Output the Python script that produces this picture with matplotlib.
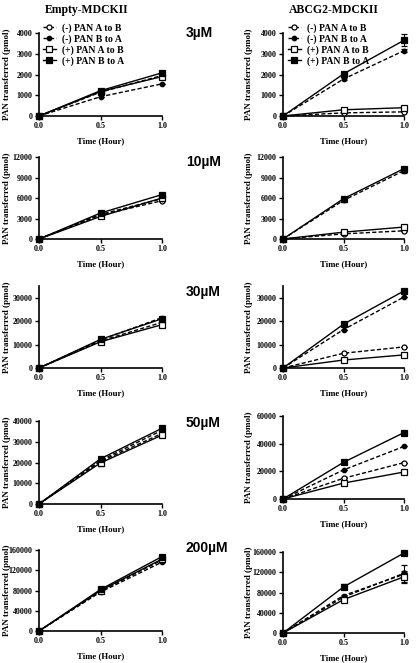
import numpy as np
import matplotlib.pyplot as plt

plt.rcParams['font.family'] = 'Liberation Serif'
plt.rcParams['font.weight'] = 'bold'
plt.rcParams['axes.labelweight'] = 'bold'

# time points (hour)
time = [0.0, 0.5, 1.0]
series_labels = ["(-) PAN A to B", "(-) PAN B to A", "(+) PAN A to B", "(+) PAN B to A"]
conc_labels = ["3\u00b5M", "10\u00b5M", "30\u00b5M", "50\u00b5M", "200\u00b5M"]

# Empty-MDCKII, order: (-)AtoB, (-)BtoA, (+)AtoB, (+)BtoA
empty_3 = [[0, 1150, 1950], [0, 930, 1550], [0, 1180, 1900], [0, 1220, 2080]]
empty_10 = [[0, 3500, 5600], [0, 3600, 5900], [0, 3300, 6000], [0, 3800, 6500]]
empty_30 = [[0, 11500, 19500], [0, 12000, 21500], [0, 11200, 18500], [0, 12200, 21000]]
empty_50 = [[0, 20500, 34000], [0, 21000, 35500], [0, 19800, 33200], [0, 21800, 36500]]
empty_200 = [[0, 79000, 140000], [0, 77000, 136000], [0, 80000, 142000], [0, 82000, 147000]]

# ABCG2-MDCKII
abcg2_3 = [[0, 150, 200], [0, 1780, 3150], [0, 300, 400], [0, 2030, 3650]]
abcg2_10 = [[0, 750, 1200], [0, 5650, 10000], [0, 1000, 1750], [0, 5900, 10300]]
abcg2_30 = [[0, 6300, 9000], [0, 16400, 30300], [0, 3400, 5600], [0, 18700, 32900]]
abcg2_50 = [[0, 15000, 26300], [0, 21000, 38000], [0, 11500, 19500], [0, 26500, 48000]]
abcg2_200 = [[0, 71000, 118000], [0, 74000, 116000], [0, 66000, 111000], [0, 91000, 158000]]

# error bars (SD)
empty_50_err = [[0, 800, 600], [0, 600, 800], [0, 1500, 700], [0, 500, 1200]]
abcg2_3_err = [[0, 0, 0], [0, 60, 80], [0, 0, 0], [0, 60, 280]]
abcg2_10_err = [[0, 0, 0], [0, 200, 400], [0, 0, 0], [0, 200, 300]]
abcg2_50_err = [[0, 0, 0], [0, 0, 0], [0, 0, 0], [0, 800, 1500]]
abcg2_200_err = [[0, 0, 17000], [0, 2000, 3000], [0, 2000, 12000], [0, 5000, 3000]]

zero_err = [[0, 0, 0]] * 4

# y axis limits / ticks
left_ylim = [4000, 12000, 35000, 40000, 160000]
left_yticks = [[0, 1000, 2000, 3000, 4000], [0, 3000, 6000, 9000, 12000],
               [0, 10000, 20000, 30000], [0, 10000, 20000, 30000, 40000],
               [0, 40000, 80000, 120000, 160000]]
right_ylim = [4000, 12000, 35000, 60000, 160000]
right_yticks = [[0, 1000, 2000, 3000, 4000], [0, 3000, 6000, 9000, 12000],
                [0, 10000, 20000, 30000], [0, 20000, 40000, 60000],
                [0, 40000, 80000, 120000, 160000]]

left_data = [empty_3, empty_10, empty_30, empty_50, empty_200]
left_err = [zero_err, zero_err, zero_err, empty_50_err, zero_err]
right_data = [abcg2_3, abcg2_10, abcg2_30, abcg2_50, abcg2_200]
right_err = [abcg2_3_err, abcg2_10_err, zero_err, abcg2_50_err, abcg2_200_err]

W, H = 416, 663
fig = plt.figure(figsize=(W / 100, H / 100), dpi=100)

# axes boxes in pixels: (top, bottom)
left_rows = [(33, 116), (157, 239), (286, 368), (421, 504), (550, 631)]
right_rows = [(33, 116), (157, 239), (286, 368), (416, 499), (552, 633)]
conc_y = [33, 162, 292, 423, 548]

dash = (0, (3, 1.6))
styles = [
    dict(marker='o', mfc='white', ls=dash, ms=3.6),
    dict(marker='o', mfc='black', ls=dash, ms=3.2),
    dict(marker='s', mfc='white', ls='-', ms=3.8),
    dict(marker='s', mfc='black', ls='-', ms=3.8),
]


def add_ax(x0, x1, top, bottom):
    return fig.add_axes([x0 / W, 1 - bottom / H, (x1 - x0) / W, (bottom - top) / H])


def draw_panel(ax, data, err, ymax, yticks, x0, x1, label_x):
    handles = []
    for i in range(4):
        st = styles[i]
        e = ax.errorbar(time, data[i], yerr=err[i], color='black', lw=1.0,
                        ls=st['ls'], marker=st['marker'], ms=st['ms'],
                        mfc=st['mfc'], mec='black', mew=0.9,
                        elinewidth=0.8, capsize=2, capthick=0.8,
                        clip_on=False, zorder=3 + i)
        handles.append(e[0])  # data line only, for the legend
    ax.set_xlim(0, 1.0)
    ax.set_ylim(0, ymax)
    ax.set_xticks([0, 0.5, 1.0])
    ax.set_xticklabels(['0.0', '0.5', '1.0'])
    ax.set_yticks(yticks)
    ax.set_yticklabels([str(t) for t in yticks])
    for s in ['top', 'right']:
        ax.spines[s].set_visible(False)
    for s in ['left', 'bottom']:
        ax.spines[s].set_linewidth(1.2)
    ax.tick_params(direction='out', length=3, width=1, labelsize=5.8, pad=1.5)
    ax.set_xlabel("Time (Hour)", fontsize=6.3, labelpad=5)
    ax.set_ylabel("PAN transferred (pmol)", fontsize=6.5)
    # fixed horizontal position of the y label (its right edge), in axes units
    ax.yaxis.set_label_coords((label_x - x0) / (x1 - x0), 0.5)
    return handles


for r in range(5):
    axl = add_ax(39, 162, *left_rows[r])
    hl = draw_panel(axl, left_data[r], left_err[r], left_ylim[r], left_yticks[r], 39, 162, 11)
    axr = add_ax(283, 404, *right_rows[r])
    hr = draw_panel(axr, right_data[r], right_err[r], right_ylim[r], right_yticks[r], 283, 404, 253)
    fig.text(186 / W, 1 - conc_y[r] / H, conc_labels[r], family='Liberation Sans',
             fontsize=10, fontweight='bold', ha='left', va='center')
    if r == 0:
        for ax, h, x in [(axl, hl, 43), (axr, hr, 288)]:
            ax.legend(h, series_labels, loc='upper left',
                      bbox_to_anchor=(x / W, 1 - 23 / H), bbox_transform=fig.transFigure,
                      frameon=False, fontsize=7, handlelength=1.3, handletextpad=0.7,
                      labelspacing=0.15, borderpad=0, borderaxespad=0)

fig.text(87 / W, 1 - 10 / H, "Empty-MDCKII", fontsize=8.5, fontweight='bold',
         ha='center', va='center')
fig.text(334 / W, 1 - 10 / H, "ABCG2-MDCKII", fontsize=8.5, fontweight='bold',
         ha='center', va='center')

fig.savefig("out.png", dpi=100)
